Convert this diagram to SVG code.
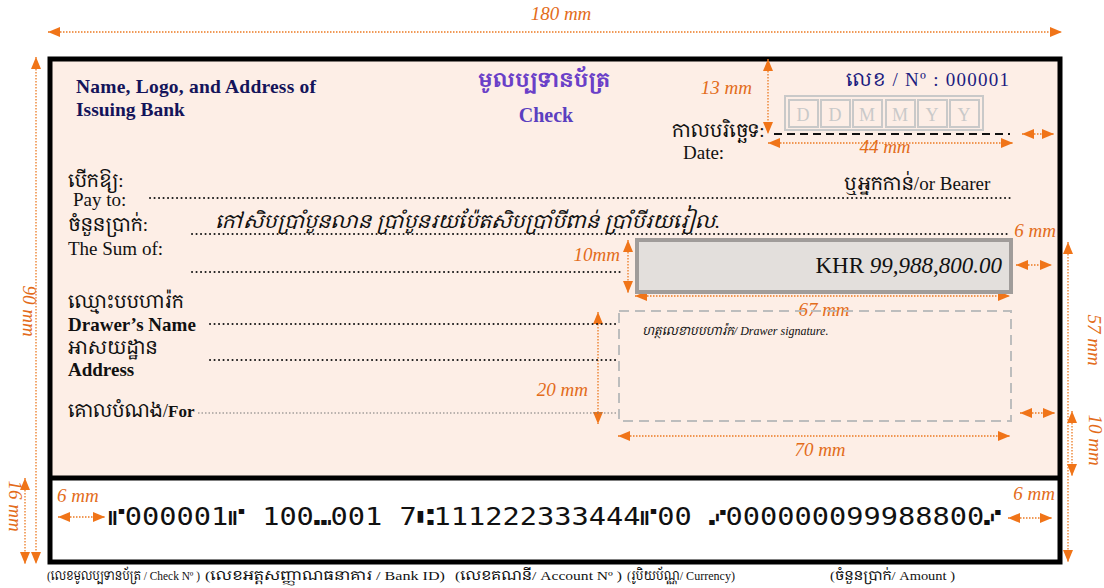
<svg xmlns="http://www.w3.org/2000/svg" width="1104" height="588" viewBox="0 0 1104 588">
<style>
.dim{fill:none;stroke:#ec7a22;stroke-width:1.3;stroke-dasharray:1.5 1.5}
.mm{font-family:"Liberation Serif",serif;font-style:italic;fill:#e36c1a;font-size:19px}
.dot{fill:none;stroke:#1a1a1a;stroke-width:2;stroke-linecap:round;stroke-dasharray:0.1 4.4}
.fdot{fill:none;stroke:#777;stroke-width:1;stroke-dasharray:1.5 2}
.lbl{font-family:"Liberation Serif","Noto Serif Khmer","Noto Sans Khmer","Khmer OS",serif;font-size:19px;fill:#111}
.kh{font-family:"Liberation Serif","Noto Serif Khmer","Noto Sans Khmer","Khmer OS",serif}
.cap{font-family:"Liberation Serif","Noto Serif Khmer","Noto Sans Khmer","Khmer OS",serif;font-size:13px;fill:#111}
.box{fill:none;stroke:#c9c9c9;stroke-width:2}
.dl{font-family:"Liberation Serif",serif;font-size:18px;fill:#c9c9c9;text-anchor:middle}
</style>
<defs>
<marker id="ah" viewBox="0 0 12 10" refX="12" refY="5" markerWidth="12" markerHeight="10" markerUnits="userSpaceOnUse" orient="auto-start-reverse">
<path d="M0,0 L12,5 L0,10 z" fill="#f07418"/>
</marker>
</defs>
<rect width="1104" height="588" fill="#fff"/>

<g id="cheque-frame">
<rect x="50" y="59" width="1010" height="419" fill="#fdeee6"/>
<rect x="50" y="478" width="1010" height="84" fill="#fff"/>
<rect x="50" y="59" width="1010" height="503" fill="none" stroke="#000" stroke-width="5"/>
<line x1="50" y1="478" x2="1060" y2="478" stroke="#000" stroke-width="5"/>
</g>

<g id="connectors" marker-start="url(#ah)" marker-end="url(#ah)">
<line class="dim" x1="48" y1="32" x2="1062" y2="32"/>
<line class="dim" x1="36" y1="57" x2="36" y2="564"/>
<line class="dim" x1="25" y1="478" x2="25" y2="564"/>
<line class="dim" x1="768" y1="59" x2="768" y2="134"/>
<line class="dim" x1="768" y1="143" x2="1013" y2="143"/>
<line class="dim" x1="1022" y1="134" x2="1054" y2="134"/>
<line class="dim" x1="628" y1="240" x2="628" y2="293"/>
<line class="dim" x1="644" y1="258" x2="677" y2="258"/>
<line class="dim" x1="1016" y1="265" x2="1052" y2="265"/>
<line class="dim" x1="635" y1="296" x2="1010" y2="296"/>
<line class="dim" x1="598" y1="312" x2="598" y2="424"/>
<line class="dim" x1="1020" y1="413" x2="1055" y2="413"/>
<line class="dim" x1="618" y1="436" x2="1010" y2="436"/>
<line class="dim" x1="1068" y1="242" x2="1068" y2="562"/>
<line class="dim" x1="1072" y1="411" x2="1072" y2="476"/>
<line class="dim" x1="58" y1="517" x2="105" y2="517"/>
<line class="dim" x1="1008" y1="518" x2="1052" y2="518"/>
</g>

<g id="dimension-labels">
<text class="mm" x="561" y="20" text-anchor="middle">180 mm</text>
<text class="mm" transform="translate(23,311) rotate(90)" text-anchor="middle">90 mm</text>
<text class="mm" transform="translate(9,506) rotate(90)" text-anchor="middle">16 mm</text>
<text class="mm" transform="translate(1088,340) rotate(90)" text-anchor="middle">57 mm</text>
<text class="mm" transform="translate(1089,440) rotate(90)" text-anchor="middle">10 mm</text>
<text class="mm" x="752" y="94" text-anchor="end">13 mm</text>
<text class="mm" x="885" y="153" text-anchor="middle">44 mm</text>
<text class="mm" x="1056" y="237" text-anchor="end">6 mm</text>
<text class="mm" x="620" y="261" text-anchor="end">10mm</text>
<text class="mm" x="644" y="282">6 mm</text>
<text class="mm" x="824" y="316" text-anchor="middle">67 mm</text>
<text class="mm" x="588" y="396" text-anchor="end">20 mm</text>
<text class="mm" x="820" y="456" text-anchor="middle">70 mm</text>
<text class="mm" x="57" y="502">6  mm</text>
<text class="mm" x="1055" y="500" text-anchor="end">6  mm</text>
</g>

<g id="bank-info">
<text x="76" y="93" font-family="Liberation Serif,serif" font-weight="bold" font-size="19.5" fill="#14145a" textLength="240" lengthAdjust="spacing">Name, Logo, and Address of</text>
<text x="76" y="116" font-family="Liberation Serif,serif" font-weight="bold" font-size="19.5" fill="#14145a">Issuing Bank</text>
</g>

<g id="title">
<text class="kh" x="544" y="87" text-anchor="middle" font-size="21" font-weight="bold" fill="#6a3fc8">មូលប្បទានប័ត្រ</text>
<text x="546" y="122" text-anchor="middle" font-family="Liberation Serif,serif" font-weight="bold" font-size="20" fill="#5b3fc0">Check</text>
</g>

<g id="cheque-number">
<text class="kh" x="846" y="86" font-size="19" fill="#1c1c80" textLength="163" lengthAdjust="spacing">លេខ / Nº : 000001</text>
</g>

<g id="date">
<rect x="785" y="96" width="198" height="34" class="box" stroke-width="3"/>
<rect x="789" y="100" width="29" height="27" class="box"/>
<rect x="821" y="100" width="29" height="27" class="box"/>
<rect x="853" y="100" width="29" height="27" class="box"/>
<rect x="886" y="100" width="29" height="27" class="box"/>
<rect x="918" y="100" width="29" height="27" class="box"/>
<rect x="950" y="100" width="29" height="27" class="box"/>
<text class="dl" x="803" y="121">D</text>
<text class="dl" x="835" y="121">D</text>
<text class="dl" x="867" y="121">M</text>
<text class="dl" x="900" y="121">M</text>
<text class="dl" x="932" y="121">Y</text>
<text class="dl" x="964" y="121">Y</text>
<text class="lbl" x="672" y="137" font-size="18">កាលបរិច្ឆេទ:</text>
<text class="lbl" x="683" y="159">Date:</text>
<line x1="774" y1="134" x2="1010" y2="134" stroke="#111" stroke-width="2" stroke-dasharray="8 5"/>
</g>

<g id="pay-to">
<text class="lbl" x="68" y="187" font-size="18">បើកឱ្យ:</text>
<text class="lbl" x="73" y="206">Pay to:</text>
<line class="dot" x1="150" y1="198" x2="1010" y2="198"/>
<text class="lbl" x="844" y="190" font-size="18">ឬអ្នកកាន់/<tspan font-size="19">or Bearer</tspan></text>
</g>

<g id="sum">
<text class="lbl" x="68" y="231" font-size="18">ចំនួនប្រាក់:</text>
<text class="lbl" x="68" y="255">The Sum of:</text>
<line class="dot" x1="192" y1="234" x2="1010" y2="234"/>
<line class="dot" x1="192" y1="272" x2="620" y2="272"/>
<text class="kh" x="215" y="228" font-size="19" font-style="italic" fill="#111" textLength="505" lengthAdjust="spacingAndGlyphs">កៅសិបប្រាំបួនលាន ប្រាំបួនរយប៉ែតសិបប្រាំបីពាន់ ប្រាំបីរយរៀល.</text>
</g>

<g id="amount-box">
<rect x="637" y="240" width="374" height="52" fill="#e3dfdc" stroke="#a09c9a" stroke-width="4"/>
<text x="1002" y="273" text-anchor="end" font-family="Liberation Serif,serif" font-size="23" fill="#111">KHR <tspan font-style="italic">99,988,800.00</tspan></text>
</g>

<g id="drawer">
<text class="lbl" x="68" y="308" font-size="16">ឈ្មោះបបហារ៉ក</text>
<text class="lbl" x="68" y="331" font-size="16.5" font-weight="bold">Drawer’s Name</text>
<line class="dot" x1="210" y1="324" x2="617" y2="324"/>
<text class="lbl" x="68" y="354" font-size="16">អាសយដ្ឋាន</text>
<text class="lbl" x="68" y="376" font-size="16.5" font-weight="bold">Address</text>
<line class="dot" x1="210" y1="360" x2="617" y2="360"/>
<text class="lbl" x="68" y="417" font-size="16">គោលបំណង/<tspan font-weight="bold" font-size="17">For</tspan></text>
<line class="fdot" x1="198" y1="413" x2="617" y2="413"/>
</g>

<g id="signature">
<rect x="619" y="311" width="392" height="110" fill="none" stroke="#bdbdbd" stroke-width="2" stroke-dasharray="10 6"/>
<text class="kh" x="642" y="335" font-size="12" font-style="italic" fill="#111">ហត្ថលេខាបបហារ៉ក/ Drawer signature.</text>
</g>

<g id="micr">
<text x="108" y="525" font-family="DejaVu Sans Mono,monospace" font-size="24" fill="#111" textLength="893" lengthAdjust="spacingAndGlyphs">⑈000001⑈ 100⑉001 7⑆111222333444⑈00 ⑇000000099988800⑇</text>
</g>

<g id="captions">
<text class="cap" x="47" y="580" textLength="153" lengthAdjust="spacingAndGlyphs">(លេខមូលប្បទានប័ត្រ / Check Nº )</text>
<text class="cap" x="205" y="580" textLength="240" lengthAdjust="spacingAndGlyphs">(លេខអត្តសញ្ញាណធនាគារ / Bank ID)</text>
<text class="cap" x="455" y="580" textLength="167" lengthAdjust="spacingAndGlyphs">(លេខគណនី/ Account Nº )</text>
<text class="cap" x="627" y="580" textLength="108" lengthAdjust="spacingAndGlyphs">(រូបិយប័ណ្ណ/ Currency)</text>
<text class="cap" x="830" y="580" textLength="125" lengthAdjust="spacingAndGlyphs">(ចំនួនប្រាក់/ Amount )</text>
</g>
</svg>
